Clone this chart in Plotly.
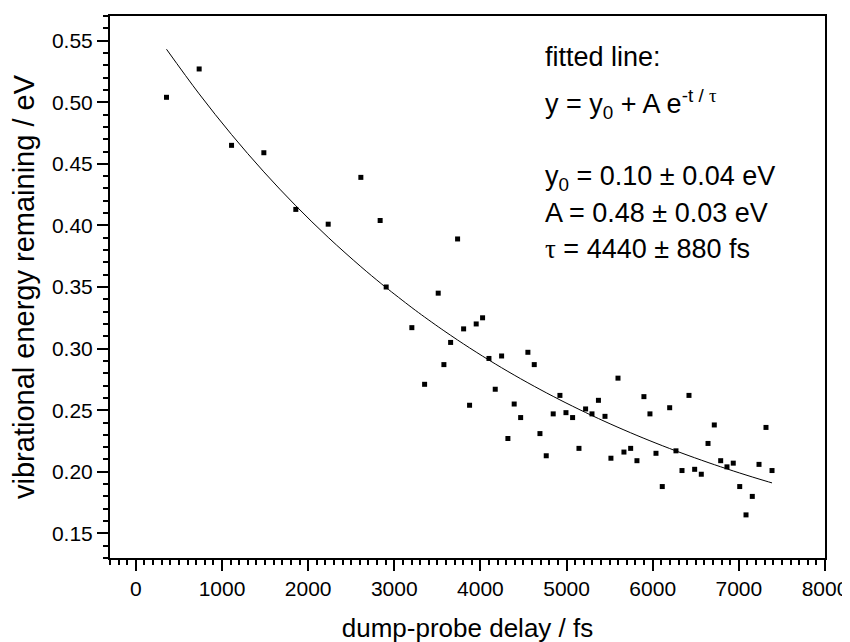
import math
import plotly.graph_objects as go

# measured data: dump-probe delay (fs) and vibrational energy remaining (eV)
delay_fs = [356, 735, 1111, 1486, 1857, 2233, 2612, 2836, 2906, 3204,
            3352, 3510, 3576, 3654, 3735, 3805, 3874, 3951, 4025, 4099,
            4172, 4246, 4319, 4392, 4467, 4551, 4625, 4691, 4764, 4845,
            4923, 4993, 5070, 5144, 5221, 5295, 5370, 5446, 5515, 5597,
            5666, 5744, 5817, 5898, 5968, 6038, 6111, 6197, 6270, 6340,
            6421, 6487, 6564, 6642, 6715, 6789, 6862, 6935, 7010, 7083,
            7156, 7234, 7315, 7385]
energy_eV = [0.504, 0.527, 0.465, 0.459, 0.413, 0.401, 0.439, 0.404, 0.350, 0.317,
             0.271, 0.345, 0.287, 0.305, 0.389, 0.316, 0.254, 0.320, 0.325, 0.292,
             0.267, 0.294, 0.227, 0.255, 0.244, 0.297, 0.287, 0.231, 0.213, 0.247,
             0.262, 0.248, 0.244, 0.219, 0.251, 0.247, 0.258, 0.245, 0.211, 0.276,
             0.216, 0.219, 0.209, 0.261, 0.247, 0.215, 0.188, 0.252, 0.217, 0.201,
             0.262, 0.202, 0.198, 0.223, 0.238, 0.209, 0.204, 0.207, 0.188, 0.165,
             0.180, 0.206, 0.236, 0.201]

# fit parameters shown on the chart
Y0 = 0.10
A = 0.48
TAU = 4440.0

fit_x = delay_fs
fit_y = [Y0 + A * math.exp(-t / TAU) for t in fit_x]

x_ticks = [0, 1000, 2000, 3000, 4000, 5000, 6000, 7000, 8000]
y_ticks = [0.15, 0.20, 0.25, 0.30, 0.35, 0.40, 0.45, 0.50, 0.55]

FONT = "Liberation Sans, Arial, sans-serif"
TAU_HTML = '<span style="font-family:Liberation Serif, DejaVu Serif, serif">τ</span>'

fig = go.Figure()
fig.add_trace(go.Scatter(x=fit_x, y=fit_y, mode="lines", line_shape="spline",
                         line=dict(color="black", width=1), showlegend=False,
                         hoverinfo="skip"))
fig.add_trace(go.Scatter(x=delay_fs, y=energy_eV, mode="markers",
                         marker=dict(symbol="square", size=5, color="black",
                                     line=dict(width=0)),
                         showlegend=False))

axis_common = dict(showline=True, linewidth=2, linecolor="black", mirror=True,
                   ticks="outside", ticklen=11, tickwidth=2, tickcolor="black",
                   showgrid=False, zeroline=False,
                   tickfont=dict(family=FONT, size=21, color="black"))

fig.update_xaxes(range=[-300, 8000], tickvals=x_ticks,
                 ticktext=[str(v) for v in x_ticks],
                 minor=dict(dtick=100, tick0=0, ticklen=5, tickwidth=2,
                            tickcolor="black", ticks="outside", showgrid=False),
                 title=dict(text="dump-probe delay / fs", standoff=20,
                            font=dict(family=FONT, size=26, color="black")),
                 **axis_common)
fig.update_yaxes(range=[0.13, 0.57], tickvals=y_ticks,
                 ticktext=[f"{v:.2f}" for v in y_ticks],
                 minor=dict(dtick=0.01, tick0=0.15, ticklen=5, tickwidth=2,
                            tickcolor="black", ticks="outside", showgrid=False),
                 title=dict(text="vibrational energy remaining / eV", standoff=16,
                            font=dict(family=FONT, size=29, color="black")),
                 **axis_common)

ann_font = dict(family=FONT, size=27, color="black")
lines = [
    ("fitted line:", 0.9246),
    ("y = y<sub>0</sub> + A e<sup>-t / " + TAU_HTML + "</sup>", 0.8382),
    ("y<sub>0</sub> = 0.10 ± 0.04 eV", 0.7004),
    ("A = 0.48 ± 0.03 eV", 0.636),
    (TAU_HTML + " = 4440 ± 880 fs", 0.5699),
]
for txt, yy in lines:
    fig.add_annotation(text=txt, xref="paper", yref="paper", x=0.6056, y=yy,
                       xanchor="left", yanchor="middle", showarrow=False,
                       font=ann_font)

# the page body adds an 8 px offset, so margins are shifted to compensate
fig.update_layout(width=850, height=642,
                  margin=dict(l=102, r=33, t=6, b=92),
                  paper_bgcolor="white", plot_bgcolor="white",
                  font=dict(family=FONT, color="black"))

fig.write_html("out.html")
